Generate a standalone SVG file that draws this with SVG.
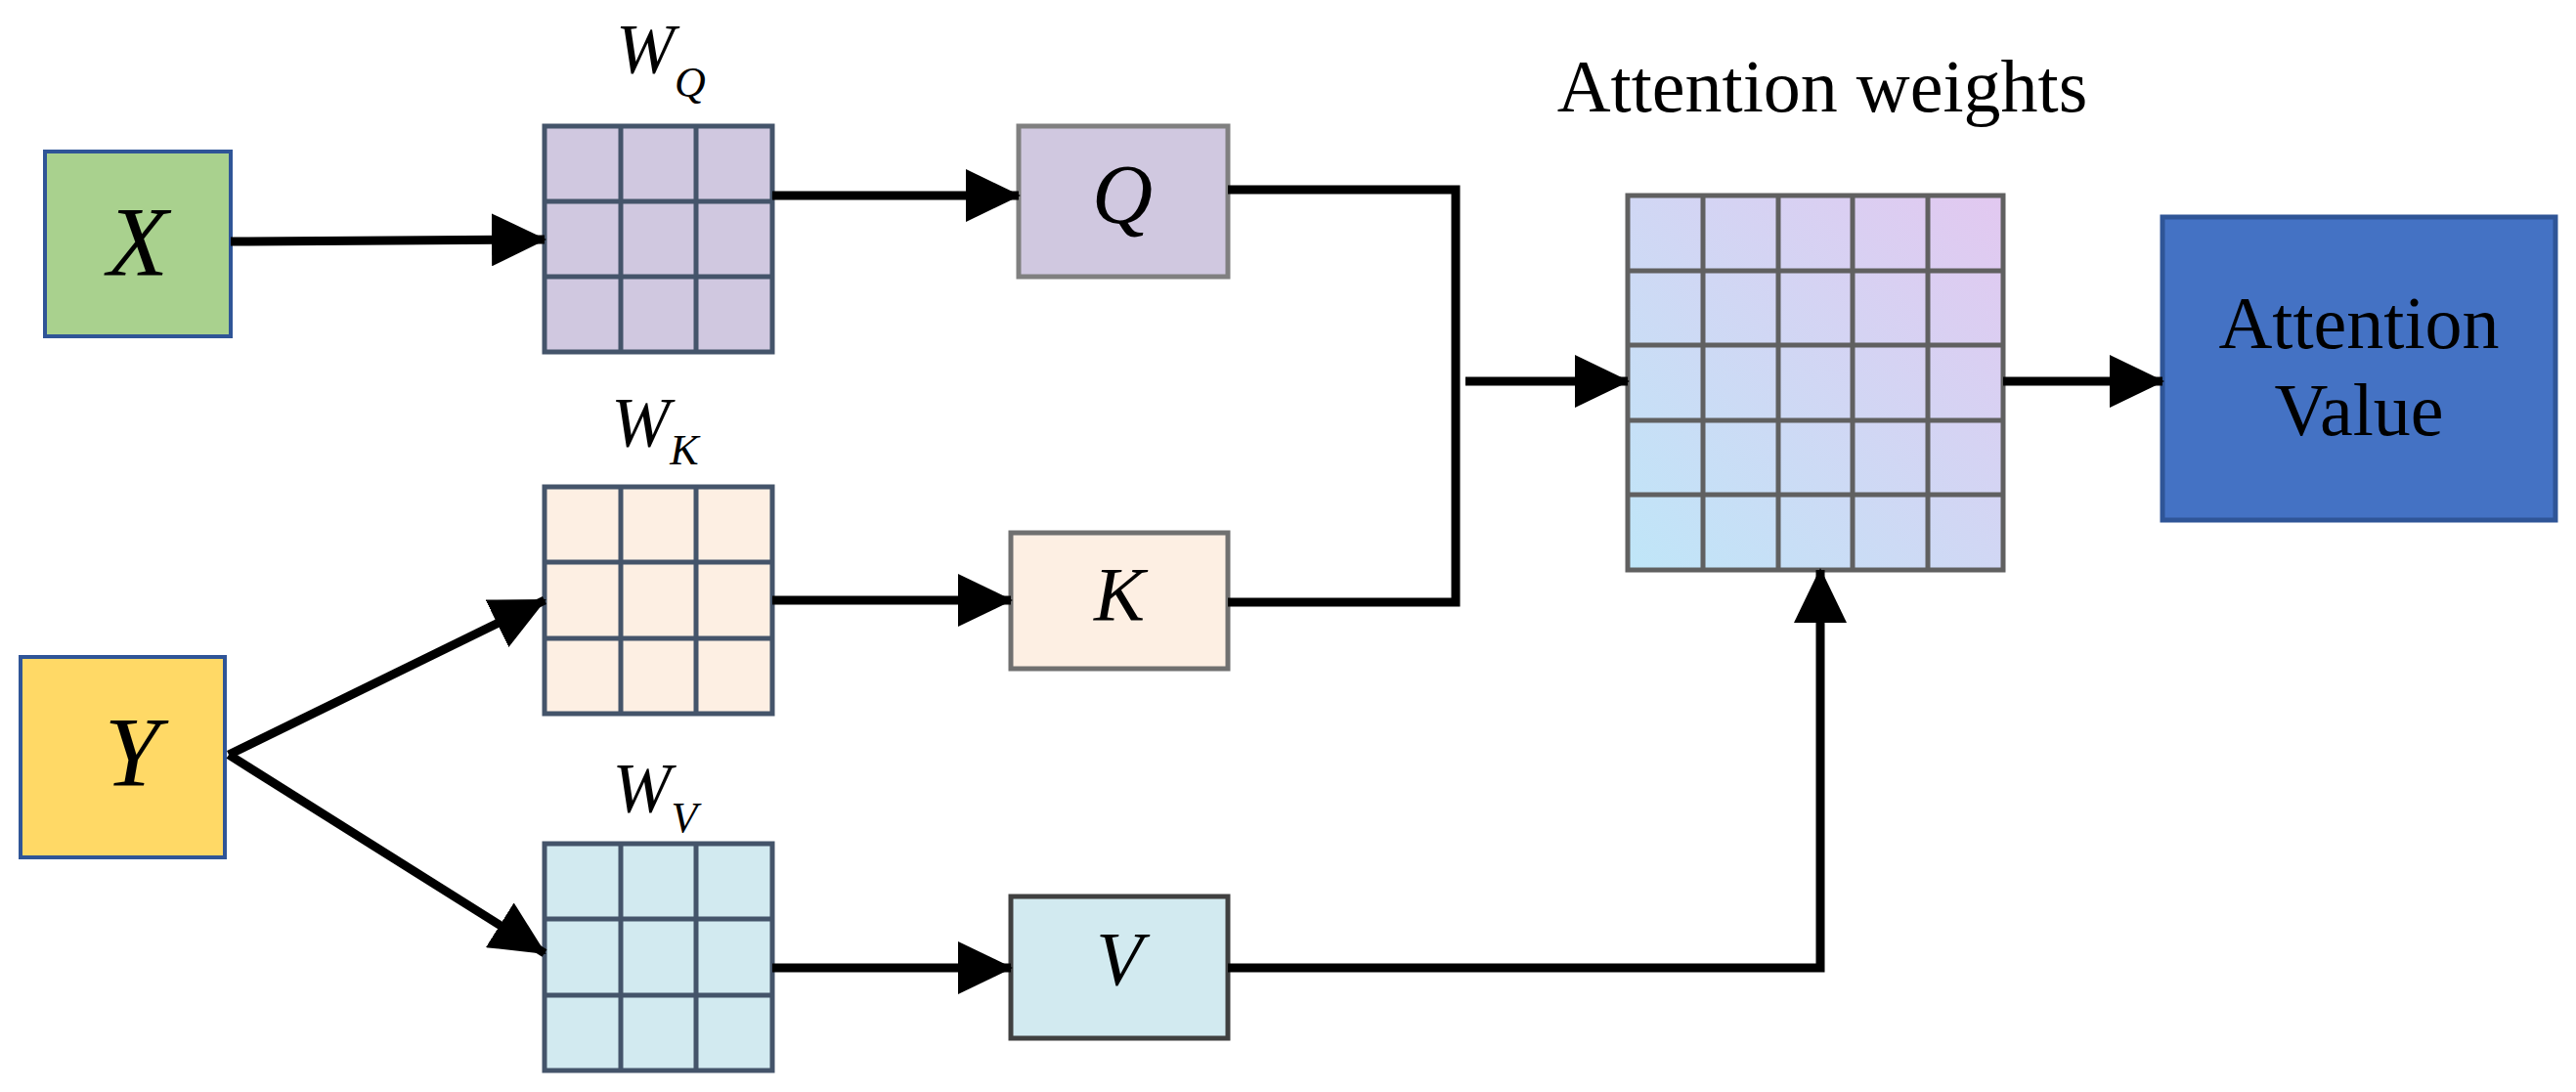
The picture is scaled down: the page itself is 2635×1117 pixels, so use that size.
<svg xmlns="http://www.w3.org/2000/svg" width="2635" height="1117" viewBox="0 0 2635 1117">
<style>
.lbl{font-family:"Liberation Serif",serif;font-style:italic;fill:#000;text-anchor:middle}
.txt{font-family:"Liberation Serif",serif;fill:#000;text-anchor:middle}
.grid{stroke:#44546A;stroke-width:5;fill:none}
.ln{stroke:#000;stroke-width:9;fill:none}
</style>
<defs>
<marker id="ah" markerUnits="userSpaceOnUse" markerWidth="56" markerHeight="54" refX="54" refY="27" orient="auto"><path d="M0,0 L56,27 L0,54 Z" fill="#000"/></marker>
<linearGradient id="ag" x1="0" y1="1" x2="1" y2="0"><stop offset="0" stop-color="#BFE6F8"/><stop offset="1" stop-color="#E2C8F0"/></linearGradient>
</defs>
<g id="X"><rect x="46" y="155" width="190" height="189" fill="#A9D18E" stroke="#2F5597" stroke-width="4"/><text class="lbl" x="141" y="282" font-size="102">X</text></g>
<g id="Y"><rect x="21" y="672" width="209" height="205" fill="#FFD966" stroke="#2F5597" stroke-width="4"/><text class="lbl" x="135" y="804" font-size="102">Y</text></g>
<g id="WQ"><rect x="557" y="129" width="233" height="231" fill="#D0C8E0"/><path class="grid" d="M557,129h233v231h-233z M635,129v231 M712,129v231 M557,206h233 M557,283h233"/><text class="lbl" x="676" y="74" font-size="72">W<tspan font-size="44" dy="25">Q</tspan></text></g>
<g id="WK"><rect x="557" y="498" width="233" height="232" fill="#FDEFE3"/><path class="grid" d="M557,498h233v232h-233z M635,498v232 M712,498v232 M557,575h233 M557,653h233"/><text class="lbl" x="670" y="456" font-size="72">W<tspan font-size="44" dy="19">K</tspan></text></g>
<g id="WV"><rect x="557" y="863" width="233" height="232" fill="#D2EAF0"/><path class="grid" d="M557,863h233v232h-233z M635,863v232 M712,863v232 M557,940h233 M557,1018h233"/><text class="lbl" x="670" y="830" font-size="72">W<tspan font-size="44" dy="21">V</tspan></text></g>
<g id="Q"><rect x="1042" y="129" width="214" height="154" fill="#D0C8E0" stroke="#808080" stroke-width="5"/><text class="lbl" x="1148" y="228" font-size="86">Q</text></g>
<g id="K"><rect x="1034" y="545" width="222" height="139" fill="#FDEFE3" stroke="#707070" stroke-width="5"/><text class="lbl" x="1145" y="634" font-size="78">K</text></g>
<g id="V"><rect x="1034" y="917" width="222" height="145" fill="#D2EAF0" stroke="#404040" stroke-width="5"/><text class="lbl" x="1145" y="1007" font-size="78">V</text></g>
<g id="AW"><rect x="1665" y="200" width="384" height="383" fill="url(#ag)"/><path d="M1665,200h384v383h-384z M1742,200v383 M1819,200v383 M1895,200v383 M1972,200v383 M1665,277h384 M1665,353h384 M1665,430h384 M1665,506h384" stroke="#606060" stroke-width="5" fill="none"/><text class="txt" x="1864" y="114" font-size="76">Attention weights</text></g>
<g id="AV"><rect x="2212" y="222" width="402" height="310" fill="#4472C4" stroke="#2F5597" stroke-width="5"/><text class="txt" x="2413" y="356" font-size="76">Attention</text><text class="txt" x="2413" y="445" font-size="76">Value</text></g>
<g id="connectors">
<path class="ln" d="M236,247 L557,245" marker-end="url(#ah)"/>
<path class="ln" d="M790,200 L1042,200" marker-end="url(#ah)"/>
<path class="ln" d="M234,772 L557,614" marker-end="url(#ah)"/>
<path class="ln" d="M234,772 L557,975" marker-end="url(#ah)"/>
<path class="ln" d="M790,614 L1034,614" marker-end="url(#ah)"/>
<path class="ln" d="M790,990 L1034,990" marker-end="url(#ah)"/>
<path class="ln" d="M1256,194 H1489 V616 H1256"/>
<path class="ln" d="M1499,390 L1665,390" marker-end="url(#ah)"/>
<path class="ln" d="M1256,990 H1862 V583" marker-end="url(#ah)"/>
<path class="ln" d="M2049,390 L2212,390" marker-end="url(#ah)"/>
</g>
</svg>
